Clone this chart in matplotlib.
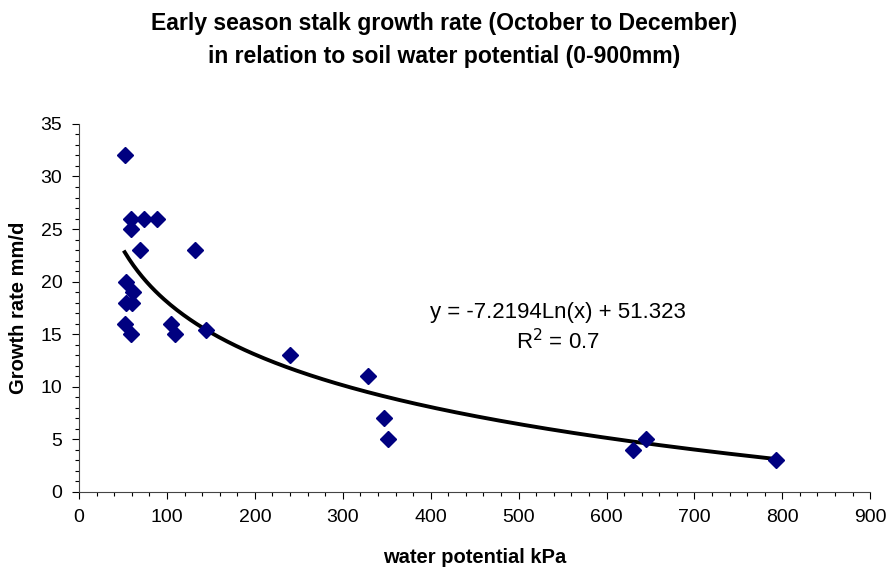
import matplotlib.pyplot as plt
import numpy as np
from matplotlib.ticker import MultipleLocator

plt.rcParams['font.family'] = ['Liberation Sans', 'DejaVu Sans']

# water potential (kPa) and stalk growth rate (mm/d)
potential = [52, 59, 74, 89, 59, 69, 132, 53, 61, 53, 60, 52, 59, 105, 109, 144,
             240, 329, 347, 351, 630, 645, 793]
growth = [32, 26, 26, 26, 25, 23, 23, 20, 19, 18, 18, 16, 15, 16, 15, 15.4,
          13, 11, 7, 5, 4, 5, 3]

# log trendline as printed on the chart
slope = -7.2194
intercept = 51.323

fig = plt.figure(figsize=(8.88, 5.7), dpi=100)
ax = fig.add_axes([0.089, 0.137, 0.891, 0.6456])

xs = np.linspace(min(potential), max(potential), 300)
ax.plot(xs, slope * np.log(xs) + intercept, color='black', lw=2.8, zorder=2)
ax.plot(potential, growth, linestyle='none', marker='D', ms=8,
        color='#000080', zorder=3)

ax.set_xlim(0, 900)
ax.set_ylim(0, 35)
ax.xaxis.set_major_locator(MultipleLocator(100))
ax.xaxis.set_minor_locator(MultipleLocator(20))
ax.yaxis.set_major_locator(MultipleLocator(5))
ax.yaxis.set_minor_locator(MultipleLocator(1))
ax.tick_params(which='major', direction='out', length=5, width=0.8,
               labelsize=14, pad=7)
ax.tick_params(which='minor', direction='out', length=3, width=0.8)

for s in ['top', 'right']:
    ax.spines[s].set_visible(False)
for s in ['left', 'bottom']:
    ax.spines[s].set_color('#444444')

ax.set_xlabel('water potential kPa', fontsize=14.5, fontweight='bold')
ax.xaxis.set_label_coords(0.5, -0.179)
ax.xaxis.label.set_va('center')
ax.set_ylabel('Growth rate mm/d', fontsize=14.5, fontweight='bold')
ax.yaxis.set_label_coords(-0.076, 0.5)
ax.yaxis.label.set_va('center')

fig.text(0.5, 0.958, 'Early season stalk growth rate (October to December)',
         ha='center', va='center', fontsize=16.6, fontweight='bold')
fig.text(0.5, 0.9, 'in relation to soil water potential (0-900mm)',
         ha='center', va='center', fontsize=16.6, fontweight='bold')

ax.text(545, 17.06, 'y = -7.2194Ln(x) + 51.323', ha='center', va='center', fontsize=16)
ax.text(545, 14.3, r'R$^2$ = 0.7', ha='center', va='center', fontsize=16)

plt.savefig('out.png', dpi=100)
